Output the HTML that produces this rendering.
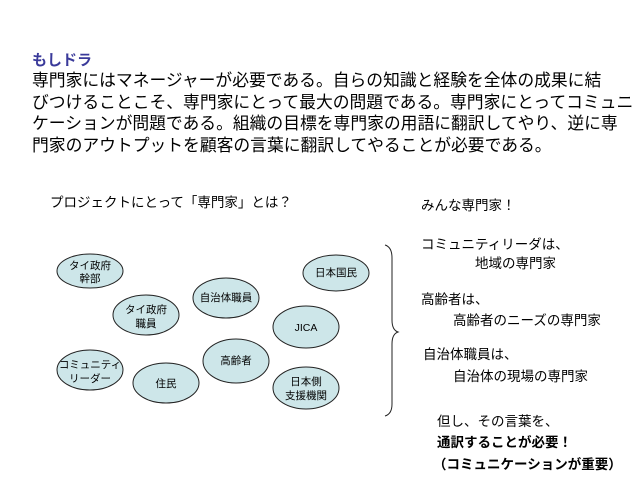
<!DOCTYPE html>
<html><head><meta charset="utf-8"><style>
body{margin:0;width:638px;height:479px;background:#fff;position:relative;overflow:hidden;font-family:"Liberation Sans","Noto Sans CJK JP",sans-serif;color:#000}
.t{position:absolute;white-space:nowrap}
.b{font-size:16.8px;left:32px;line-height:21.5px}
.r{font-size:13.5px}
</style></head><body>
<div class="t" style="left:32px;top:49px;font-size:15px;font-weight:bold;color:#3a3a9a">もしドラ</div>
<div class="t b" style="top:70px">専門家にはマネージャーが必要である。自らの知識と経験を全体の成果に結<br>びつけることこそ、専門家にとって最大の問題である。専門家にとってコミュニ<br>ケーションが問題である。組織の目標を専門家の用語に翻訳してやり、逆に専<br>門家のアウトプットを顧客の言葉に翻訳してやることが必要である。</div>
<div class="t" style="left:50px;top:191px;font-size:13.5px">プロジェクトにとって「専門家」とは？</div>
<svg width="638" height="479" style="position:absolute;left:0;top:0" font-family="Liberation Sans, Noto Sans CJK JP, sans-serif" font-size="10.5" text-anchor="middle">
<g fill="#cde6e9" stroke="#222" stroke-width="1">
<ellipse cx="90" cy="271" rx="33" ry="17"/>
<ellipse cx="336" cy="273" rx="33" ry="18"/>
<ellipse cx="226" cy="298" rx="33" ry="20"/>
<ellipse cx="146" cy="315" rx="33" ry="20"/>
<ellipse cx="306" cy="327" rx="33" ry="21"/>
<ellipse cx="90" cy="370" rx="33" ry="20"/>
<ellipse cx="166" cy="383" rx="33" ry="20"/>
<ellipse cx="236" cy="361" rx="33" ry="22"/>
<ellipse cx="306" cy="388" rx="33" ry="21"/>
</g>
<g fill="#000">
<text x="90" y="269">タイ政府</text><text x="90" y="282">幹部</text>
<text x="336" y="276">日本国民</text>
<text x="226" y="301">自治体職員</text>
<text x="146" y="313">タイ政府</text><text x="146" y="327">職員</text>
<text x="306" y="331">JICA</text>
<text x="90" y="368">コミュニティ</text><text x="90" y="382">リーダー</text>
<text x="166" y="387">住民</text>
<text x="236" y="364">高齢者</text>
<text x="306" y="385">日本側</text><text x="306" y="399">支援機関</text>
</g>
<path d="M385 245 Q392 247 392 258 L392 320 Q392 330 398 332 Q392 334 392 344 L392 404 Q392 414 385 416" fill="none" stroke="#222" stroke-width="1"/>
</svg>
<div class="t r" style="left:421px;top:194px">みんな専門家！</div>
<div class="t r" style="left:421px;top:233px">コミュニティリーダは、</div>
<div class="t r" style="left:475px;top:252px">地域の専門家</div>
<div class="t r" style="left:421px;top:288px">高齢者は、</div>
<div class="t r" style="left:453px;top:309px">高齢者のニーズの専門家</div>
<div class="t r" style="left:423px;top:343px">自治体職員は、</div>
<div class="t r" style="left:453px;top:365px">自治体の現場の専門家</div>
<div class="t r" style="left:437px;top:410px">但し、その言葉を、</div>
<div class="t r" style="left:437px;top:431px;font-weight:bold">通訳することが必要！</div>
<div class="t r" style="left:433px;top:453px;font-weight:bold">（コミュニケーションが重要）</div>
</body></html>
